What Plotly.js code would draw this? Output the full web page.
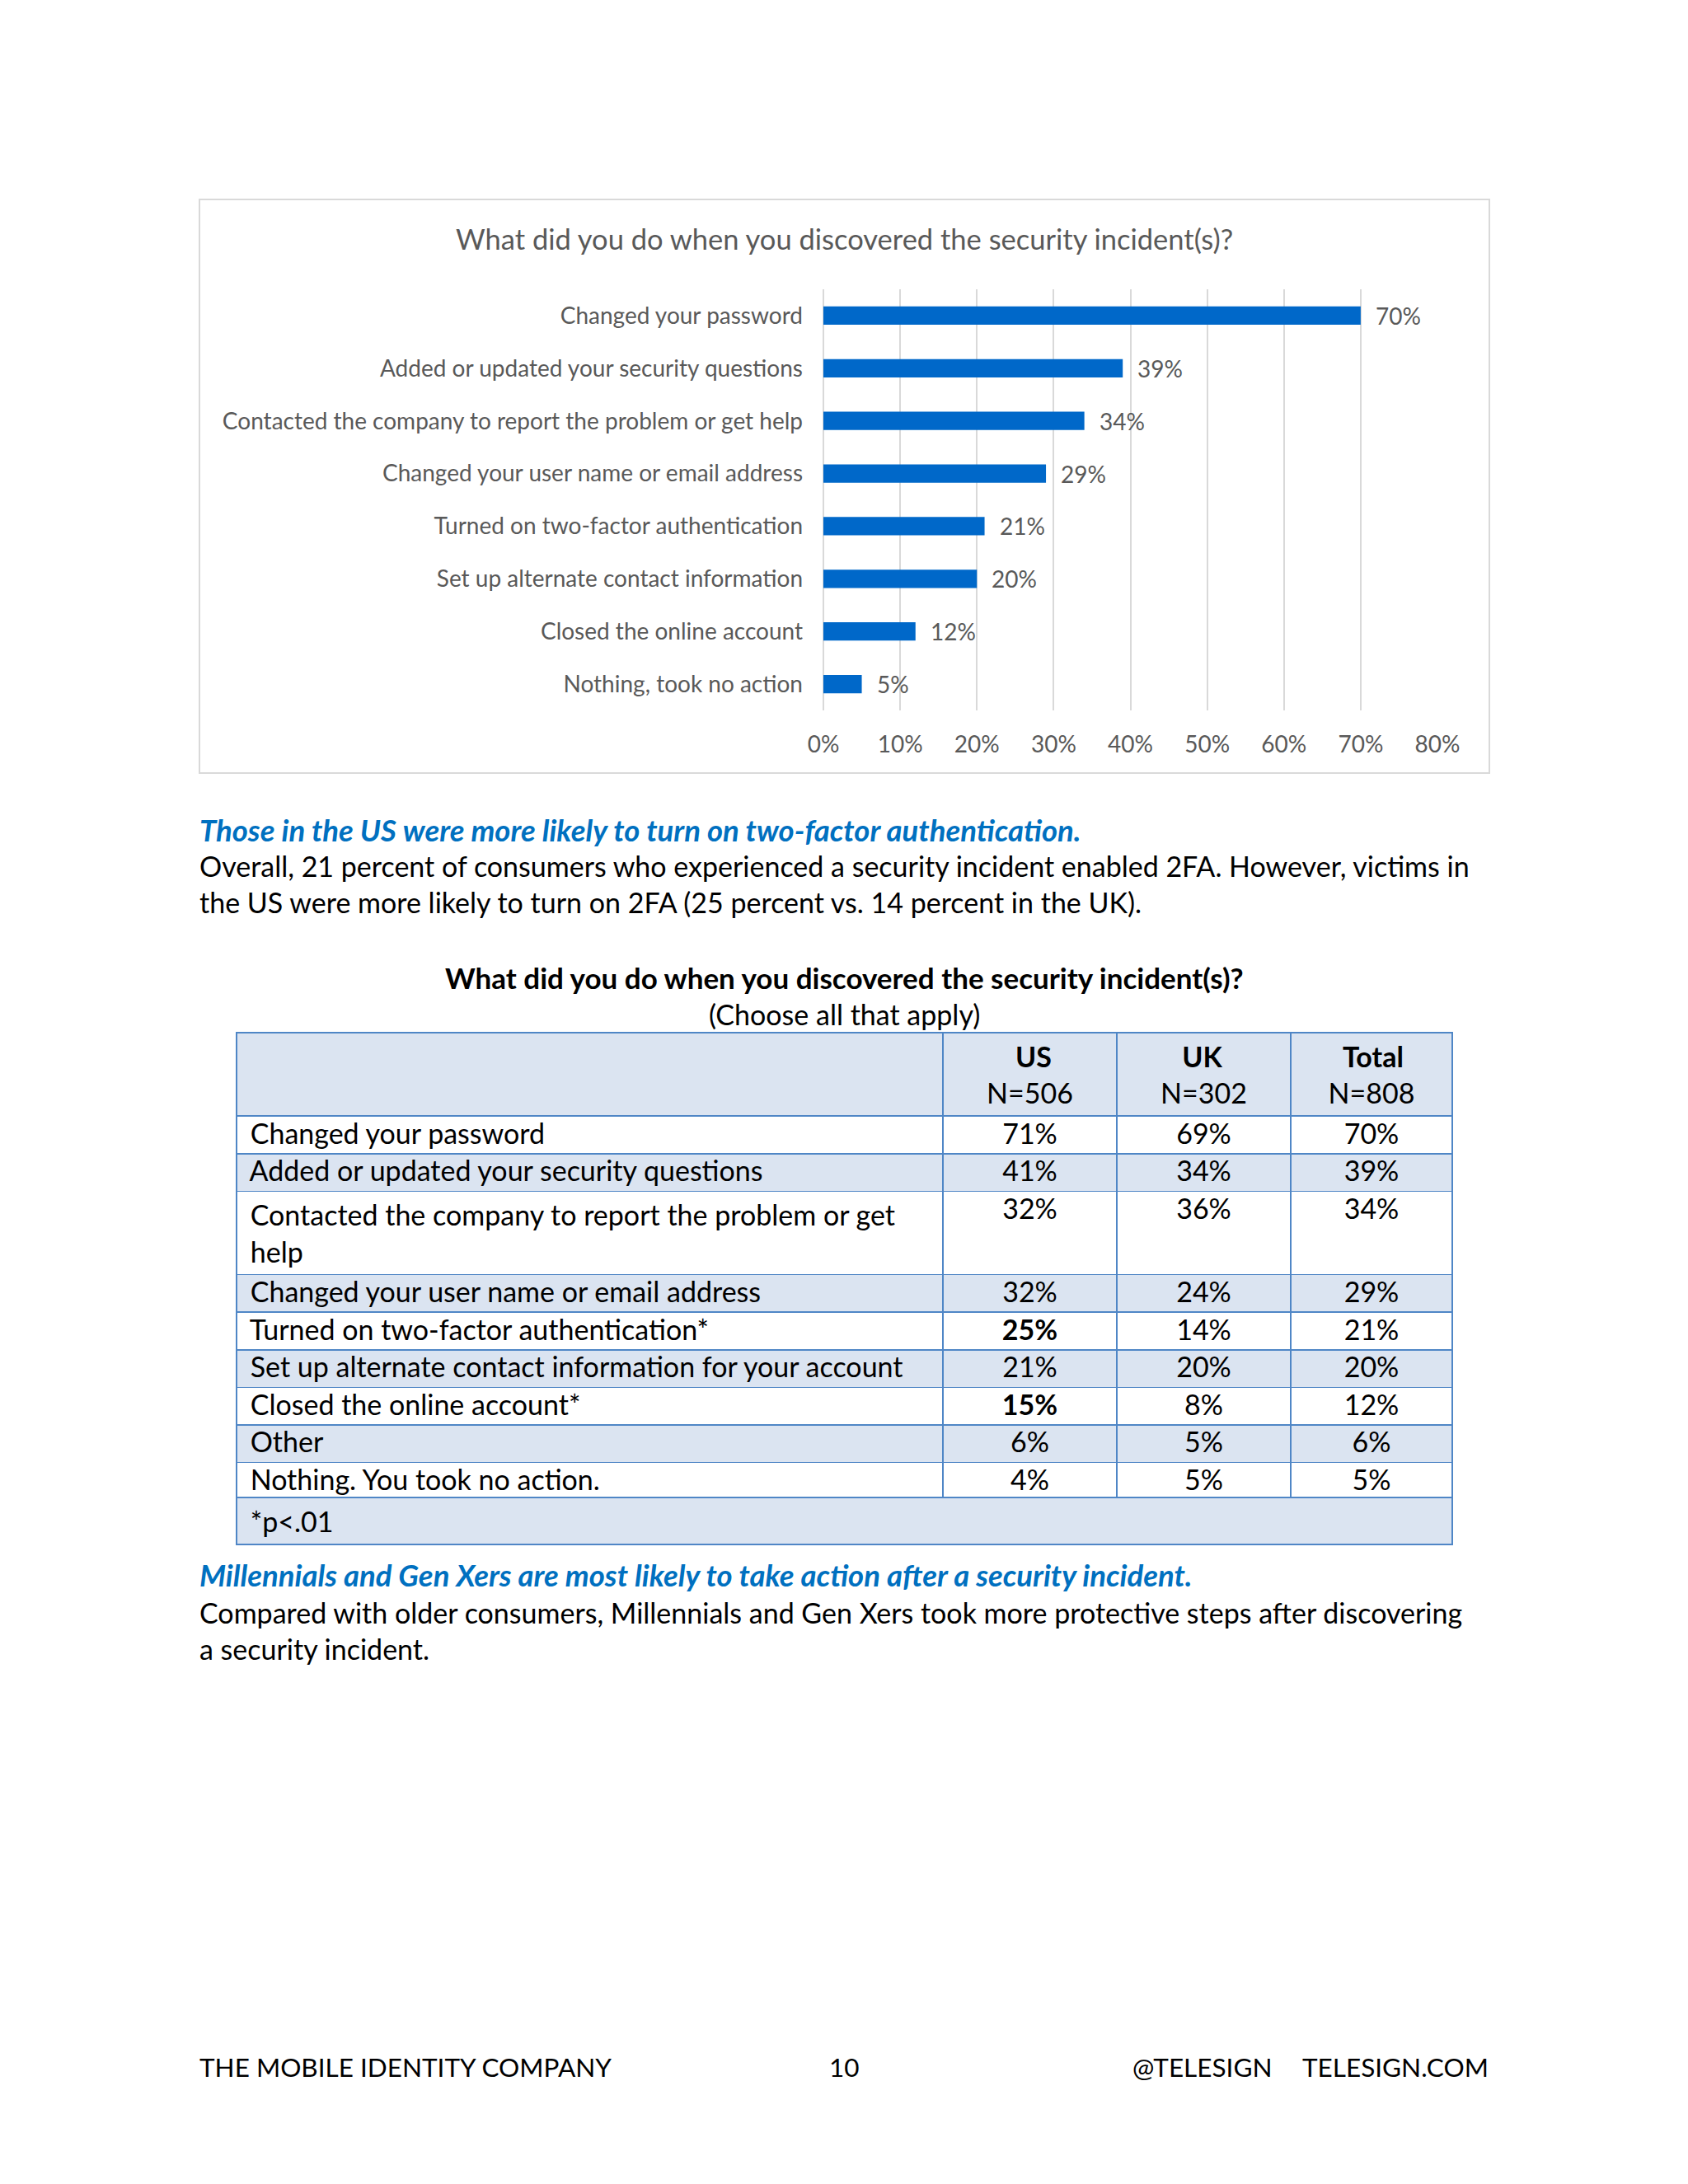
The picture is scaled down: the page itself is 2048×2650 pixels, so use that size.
<!DOCTYPE html>
<html><head><meta charset="utf-8">
<script src="https://cdn.plot.ly/plotly-3.0.1.min.js"></script>
<style>html,body{margin:0;padding:0;background:#fff;}</style>
</head><body><div id="chart" style="width:2048px;height:2650px;"></div>
<script>
// ---- bar chart data ----
const chartTitle = 'What did you do when you discovered the security incident(s)?';
const chartCategories = [
  'Changed your password',
  'Added or updated your security questions',
  'Contacted the company to report the problem or get help',
  'Changed your user name or email address',
  'Turned on two-factor authentication',
  'Set up alternate contact information',
  'Closed the online account',
  'Nothing, took no action'
];
const chartValues = [70, 39, 34, 29, 21, 20, 12, 5];
const xTickValues = [0, 10, 20, 30, 40, 50, 60, 70, 80];
const xTickLabels = ['0%', '10%', '20%', '30%', '40%', '50%', '60%', '70%', '80%'];

// ---- table data ----
const tableTitle = 'What did you do when you discovered the security incident(s)?';
const tableSubtitle = '(Choose all that apply)';
const tableColumns = ['US', 'UK', 'Total'];
const tableSampleSizes = ['N=506', 'N=302', 'N=808'];
const tableRows = [
  'Changed your password',
  'Added or updated your security questions',
  'Contacted the company to report the problem or get<br>help',
  'Changed your user name or email address',
  'Turned on two-factor authentication*',
  'Set up alternate contact information for your account',
  'Closed the online account*',
  'Other',
  'Nothing. You took no action.'
];
const usValues = [71, 41, 32, 32, 25, 21, 15, 6, 4];
const ukValues = [69, 34, 36, 24, 14, 20, 8, 5, 5];
const totalValues = [70, 39, 34, 29, 21, 20, 12, 6, 5];
const usSignificant = [false, false, false, false, true, false, true, false, false];
const tableFootnote = '*p<.01';

// ---- page text ----
const heading1 = 'Those in the US were more likely to turn on two-factor authentication.';
const body1 = ['Overall, 21 percent of consumers who experienced a security incident enabled 2FA. However, victims in',
               'the US were more likely to turn on 2FA (25 percent vs. 14 percent in the UK).'];
const heading2 = 'Millennials and Gen Xers are most likely to take action after a security incident.';
const body2 = ['Compared with older consumers, Millennials and Gen Xers took more protective steps after discovering',
               'a security incident.'];
const footerLeft = 'THE MOBILE IDENTITY COMPANY';
const footerPage = '10';
const footerHandle = '@TELESIGN';
const footerSite = 'TELESIGN.COM';

// ---- helpers ----
const W = 2048, H = 2650;
const X = p => p / W;
const Y = p => 1 - p / H;
const FONT = 'Lato, "Open Sans", sans-serif';
const BODY = 34;
const HEAD = 36.5;
const FOOT = 31.5;
const CHART_FONT = 28;
const GREY = '#595959';
const BLUE_TEXT = '#0070c0';
const BAR_BLUE = '#0068c9';
const LIGHT = '#dbe4f1';
const LINE = '#4f86c6';
const INDENT = '\u00a0';

const fmt = v => v + '%';

// measure text to centre the bold first header line over the second line
const cv = document.createElement('canvas').getContext('2d');
const textW = (t, weight) => { cv.font = weight + ' ' + BODY + 'px Lato'; return cv.measureText(t).width; };
const centredHeader = (col, n) => {
  const gap = textW(n, 'normal') - textW(col, 'bold');
  const nb = Math.max(0, Math.round(gap / 2 / textW('\u00a0', 'bold')));
  return '\u00a0'.repeat(nb) + '<b>' + col + '</b><br>' + n;
};

const barTrace = {
  type: 'bar', orientation: 'h',
  x: chartValues, y: chartCategories,
  marker: {color: BAR_BLUE},
  hoverinfo: 'skip',
  xaxis: 'x', yaxis: 'y'
};

const rowFills = tableRows.map((_, i) => i % 2 === 0 ? '#ffffff' : LIGHT);
const normalWeights = tableRows.map(() => 'normal');
const tableTrace = {
  type: 'table',
  domain: {x: [X(287), X(1762)], y: [Y(1850), Y(1253)]},
  columnwidth: [857, 211, 211, 196],
  header: {
    values: [''].concat(tableColumns.map((c, i) => centredHeader(c, tableSampleSizes[i]))),
    align: ['left', 'center', 'center', 'center'],
    fill: {color: LIGHT},
    line: {color: LINE, width: 1.5},
    font: {family: FONT, size: BODY, color: '#000'},
    height: 44
  },
  cells: {
    values: [tableRows.map(r => INDENT + r.replace('<br>', '<br>' + INDENT)),
             usValues.map(fmt), ukValues.map(fmt), totalValues.map(fmt)],
    align: ['left', 'center', 'center', 'center'],
    fill: {color: [rowFills, rowFills, rowFills, rowFills]},
    line: {color: LINE, width: 1.5},
    font: {family: FONT, size: BODY, color: '#000',
           weight: [normalWeights, usSignificant.map(s => s ? 'bold' : 'normal'), normalWeights, normalWeights]},
    height: 45.6
  }
};

const footTrace = {
  type: 'table',
  domain: {x: [X(287), X(1762)], y: [Y(1900), Y(1817)]},
  header: {
    values: [INDENT + tableFootnote],
    align: ['left'],
    fill: {color: LIGHT},
    line: {color: LINE, width: 1.5},
    font: {family: FONT, size: BODY, color: '#000'},
    height: 44
  },
  cells: {values: []}
};

const annotations = [];
// chart title
annotations.push({xref: 'paper', yref: 'paper', x: X(1024), y: Y(289), xanchor: 'center', yanchor: 'middle',
  text: chartTitle, showarrow: false, font: {family: FONT, size: 34.5, color: GREY}});
// data labels
chartValues.forEach((v, i) => annotations.push({xref: 'x', yref: 'y', x: v, y: chartCategories[i],
  xanchor: 'left', yanchor: 'middle', xshift: 16, text: fmt(v), showarrow: false,
  font: {family: FONT, size: CHART_FONT, color: GREY}}));
// headings and body text
const leftText = (py, text, font) => ({xref: 'paper', yref: 'paper', x: X(240), y: Y(py), xanchor: 'left',
  yanchor: 'middle', align: 'left', text: text, showarrow: false, font: font});
annotations.push(leftText(1007, '<b><i>' + heading1 + '</i></b>', {family: FONT, size: HEAD, color: BLUE_TEXT}));
annotations.push(leftText(1073, body1.join('<br>'), {family: FONT, size: BODY, color: '#000'}));
annotations.push(leftText(1911, '<b><i>' + heading2 + '</i></b>', {family: FONT, size: HEAD, color: BLUE_TEXT}));
annotations.push(leftText(1978, body2.join('<br>'), {family: FONT, size: BODY, color: '#000'}));
// table title
annotations.push({xref: 'paper', yref: 'paper', x: X(1024), y: Y(1186), xanchor: 'center', yanchor: 'middle',
  text: '<b>' + tableTitle + '</b>', showarrow: false, font: {family: FONT, size: 35, color: '#000'}});
annotations.push({xref: 'paper', yref: 'paper', x: X(1024), y: Y(1230), xanchor: 'center', yanchor: 'middle',
  text: tableSubtitle, showarrow: false, font: {family: FONT, size: BODY, color: '#000'}});
// footer
annotations.push(leftText(2508, footerLeft, {family: FONT, size: FOOT, color: '#000'}));
annotations.push({xref: 'paper', yref: 'paper', x: X(1024), y: Y(2508), xanchor: 'center', yanchor: 'middle',
  text: footerPage, showarrow: false, font: {family: FONT, size: FOOT, color: '#000'}});
annotations.push({xref: 'paper', yref: 'paper', x: X(1372), y: Y(2508), xanchor: 'left', yanchor: 'middle',
  text: footerHandle, showarrow: false, font: {family: FONT, size: FOOT, color: '#000'}});
annotations.push({xref: 'paper', yref: 'paper', x: X(1808), y: Y(2508), xanchor: 'right', yanchor: 'middle',
  text: footerSite, showarrow: false, font: {family: FONT, size: FOOT, color: '#000'}});

const layout = {
  width: W, height: H,
  margin: {l: 0, r: 0, t: 0, b: 0},
  paper_bgcolor: '#ffffff', plot_bgcolor: 'rgba(0,0,0,0)',
  showlegend: false,
  font: {family: FONT, color: GREY},
  bargap: 0.65,
  xaxis: {
    domain: [X(999), X(1744)], range: [0, 80], fixedrange: true,
    tickvals: xTickValues, ticktext: xTickLabels,
    showgrid: true, gridcolor: '#d9d9d9', gridwidth: 2,
    zeroline: true, zerolinecolor: '#d9d9d9', zerolinewidth: 2,
    showline: false, ticks: '', ticklabelstandoff: 22,
    tickfont: {family: FONT, size: CHART_FONT, color: GREY}
  },
  yaxis: {
    domain: [Y(862), Y(351)], type: 'category', autorange: 'reversed', fixedrange: true,
    categoryorder: 'array', categoryarray: chartCategories,
    showgrid: false, zeroline: false, showline: false, ticks: '', ticklabelstandoff: 24,
    tickfont: {family: FONT, size: CHART_FONT, color: GREY}
  },
  shapes: [{type: 'rect', xref: 'paper', yref: 'paper', x0: X(242), x1: X(1807), y0: Y(938), y1: Y(242),
    line: {color: '#d9d9d9', width: 2}, fillcolor: 'rgba(0,0,0,0)', layer: 'below'}],
  annotations: annotations
};

Plotly.newPlot('chart', [barTrace, tableTrace, footTrace], layout, {displayModeBar: false, staticPlot: true});
</script></body></html>
